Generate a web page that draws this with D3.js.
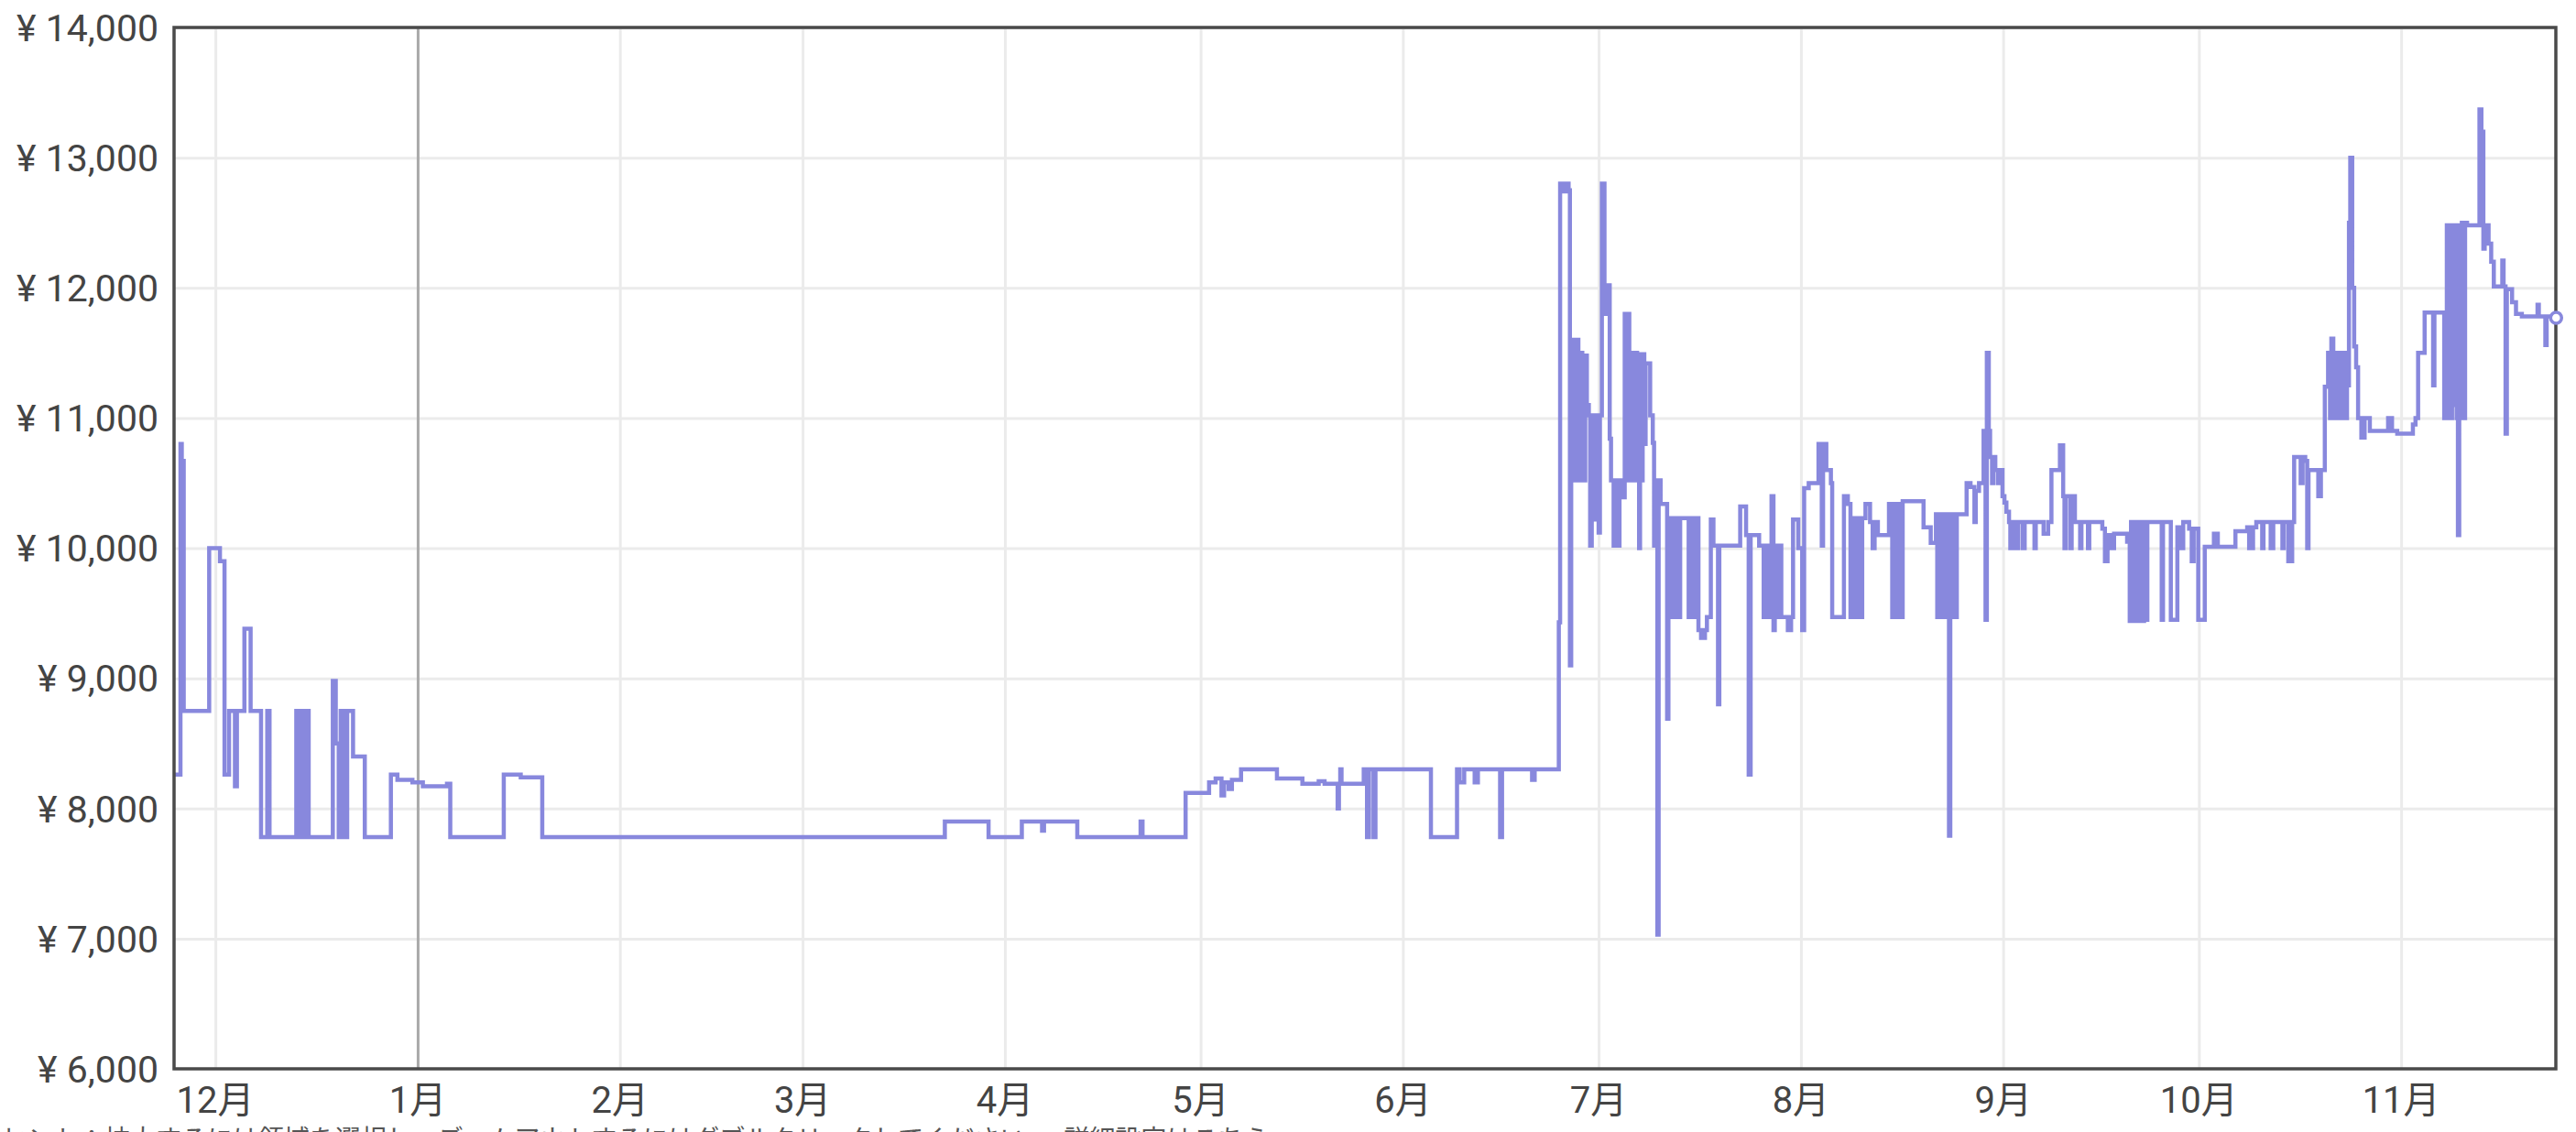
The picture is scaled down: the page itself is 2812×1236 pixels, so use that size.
<!DOCTYPE html>
<html><head><meta charset="utf-8">
<script src="https://cdn.jsdelivr.net/npm/d3@7"></script>
<style>
html,body{margin:0;padding:0;background:#fff;overflow:hidden;}
svg{display:block;}
</style></head><body>
<svg id="chart" width="2812" height="1236"></svg>
<script>
// ---------- data ----------
const monthLabels = ["12月","1月","2月","3月","4月","5月","6月","7月","8月","9月","10月","11月"];
const yTicks = [6000,7000,8000,9000,10000,11000,12000,13000,14000];
// days since 2022-12-01 00:00 at which each price starts (step after)
const days = [
-6.4,-5.35,-5.15,-4.85,-0.95,0.7,1.4,2.1,3.0,3.3,4.45,5.4,7.0,7.95,8.3,12.4,12.7,12.9,13.2,13.4,13.7,13.9,14.3,
18.0,18.45,18.9,19.2,19.5,19.7,20.0,20.2,21.1,22.9,26.9,27.9,30.2,31.8,35.5,36.0,44.2,46.8,50.1,
111.8,118.5,123.6,126.7,127.0,132.1,141.8,142.1,148.7,152.3,153.3,154.2,154.6,155.3,155.8,157.2,162.7,166.6,
169.1,170.0,172.0,172.2,172.4,172.6,176.0,176.5,176.8,177.5,177.8,186.3,190.3,190.7,191.4,193.0,193.5,196.9,
197.2,201.8,202.2,205.9,206.1,
206.6,207.0,207.4,207.6,207.8,207.9,208.0,208.1,208.2,208.3,208.4,208.5,208.6,208.7,208.8,208.9,209.0,209.1,
209.2,209.3,209.4,209.5,209.6,209.7,209.8,209.9,209.95,210.2,210.5,210.7,210.95,211.5,211.7,212.0,212.2,212.5,212.9,213.2,213.7,213.9,214.3,214.6,215.0,
215.2,215.6,216.0,216.1,216.2,216.3,216.4,216.5,216.6,216.7,216.8,216.9,217.0,217.1,217.2,217.3,217.4,217.5,217.7,217.9,218.2,218.35,218.6,218.75,
219.0,219.2,219.9,220.3,220.5,220.6,221.0,221.2,221.5,222.5,222.7,223.0,223.2,223.5,223.8,224.2,224.5,225.8,
226.2,226.6,227.0,227.3,227.7,228.3,228.6,229.2,229.6,230.3,230.5,233.7,234.6,235.0,235.3,236.6,237.3,237.6,
237.9,238.2,238.5,238.8,239.0,239.4,239.7,240.0,241.0,241.5,241.8,242.6,243.2,243.5,244.2,245.7,246.2,246.4,
246.9,247.6,247.8,249.6,250.2,250.6,250.9,251.3,251.6,252.0,252.4,252.9,253.6,254.0,254.3,254.8,256.5,257.0,
257.3,257.6,258.0,258.3,258.6,261.8,262.9,263.7,263.9,264.1,264.3,264.5,264.7,264.9,265.1,265.3,265.5,265.7,
265.9,266.1,266.3,266.5,266.7,266.9,
268.4,269.0,269.6,269.8,270.3,271.0,271.3,271.5,271.8,272.0,272.3,272.5,272.8,273.2,273.5,273.9,274.2,274.5,
274.9,275.1,275.4,275.6,275.9,276.1,276.3,277.0,277.3,278.8,279.0,280.2,280.9,281.4,282.7,283.2,283.4,283.6,
284.3,284.5,285.0,285.8,286.0,287.0,287.2,289.2,289.6,290.0,290.6,291.0,293.0,293.4,293.6,293.8,294.0,294.2,
294.4,294.6,294.8,295.0,295.2,295.4,295.6,295.8,296.1,298.3,298.5,299.7,300.7,301.2,301.6,302.5,302.9,303.2,
303.9,304.9,306.3,306.9,309.6,311.4,311.7,312.3,312.8,313.7,313.9,315.0,315.4,316.8,317.0,317.7,318.3,318.6,
319.6,319.9,320.3,320.6,320.8,322.3,322.7,323.3,
323.8,324.1,324.3,324.6,324.9,325.2,325.5,325.8,326.1,326.4,326.7,327.0,327.2,327.5,327.8,328.1,328.4,328.9,
329.4,330.2,333.0,333.6,334.4,336.8,337.2,337.6,338.6,339.9,340.1,341.6,341.8,342.0,342.2,342.4,342.6,342.8,
343.0,343.2,343.5,343.7,343.9,344.1,344.3,344.6,344.8,345.1,347.0,347.3,347.6,347.8,348.4,348.8,349.2,350.5,
350.7,351.0,351.2,352.0,352.6,353.5,355.9,356.1,357.1,357.3,358.75
];
const prices = [
8260,10800,10670,8750,10000,9900,8260,8750,8170,8750,9380,8750,7780,8750,7780,8750,7780,8750,7780,8750,7780,8750,7780,
8980,8500,7780,8750,7780,8750,7780,8750,8400,7780,8260,8220,8200,8170,8190,7780,8260,8240,7780,
7900,7780,7900,7830,7900,7780,7900,7780,8120,8200,8230,8100,8200,8150,8220,8300,8230,8190,
8210,8190,8000,8190,8300,8190,8300,7780,8300,7780,8300,7780,8300,8200,8300,8200,8300,7780,
8300,8220,8300,9430,12800,
12740,12800,12750,9100,11600,10520,11600,10520,11600,10520,11600,10520,11600,10520,11600,10520,11500,10520,
11500,10520,11500,10520,11480,10520,11480,10520,11480,11100,11020,10020,11020,10220,11020,10120,11020,12800,11800,12020,10840,10520,10020,10520,10020,
10520,10390,11800,10520,11800,10520,11800,10520,11800,10520,11500,10520,11500,10520,11500,10520,11500,10520,11500,11300,10000,11490,10520,11490,
10800,11420,11020,10810,10020,10520,7030,10520,10340,8690,10230,9470,10230,9470,10230,9470,10230,9470,
10230,9470,10230,9370,9310,9370,9470,10220,10020,8800,10020,10320,10100,8260,10100,10020,9470,10020,
9470,10020,10400,9370,10020,9470,10020,9470,9370,9470,10220,10000,9370,10460,10500,10800,10020,10800,
10600,10500,9470,10400,10340,9470,10230,9470,10230,9470,10230,10340,10200,10000,10200,10100,10340,9470,
10340,9470,10340,9470,10360,10160,10040,10260,9470,10260,9470,10260,9470,10260,9470,10260,9470,7790,
9470,10260,9470,10260,9470,10260,
10500,10470,10200,10440,10500,10900,9450,11500,10900,10700,10500,10700,10600,10500,10600,10400,10350,10280,
10200,10000,10200,10000,10200,10000,10200,10000,10200,10000,10200,10110,10200,10600,10790,10400,10000,10400,
10000,10400,10200,10000,10200,10000,10200,10150,9900,10100,10000,10110,10050,9440,10200,9440,10200,9440,
10200,9440,10200,9440,10200,9440,10200,9450,10200,9450,10200,9450,10160,10000,10200,10150,9900,10150,
9450,10010,10110,10010,10130,10160,10000,10160,10200,10000,10200,10000,10200,10000,10200,9900,10200,10700,
10500,10700,10670,10000,10600,10400,10600,11240,
11500,11000,11610,11000,11500,11000,11500,11000,11500,11000,11250,12500,13000,12000,11550,11390,11000,10850,
11000,10900,11000,10900,10880,10950,11000,11500,11810,11250,11810,11000,11810,12480,11000,12480,11000,12480,
11100,12480,11000,10100,12480,11000,12500,11000,12500,12480,13370,13200,12300,12480,12340,12200,12010,12210,
12010,10880,11990,11890,11800,11780,11870,11780,11560,11780,11770
];
const hintText = "ヒント：拡大するには領域を選択し、ズームアウトするにはダブルクリックしてください。　詳細設定はこちら";

// ---------- chart ----------
const svg = d3.select("#chart");
const L = 190, R = 2790, T = 30, B = 1167;
const baseDate = new Date(2022, 11, 1, 0, 0);
const x = d3.scaleTime()
  .domain([new Date(2022, 10, 24, 16), new Date(2023, 10, 24, 17)])
  .range([L, R]);
const y = d3.scaleLinear().domain([6000, 14000]).range([B, T]);

const n = Math.min(days.length, prices.length);
const data = d3.range(n).map(i => ({ date: d3.timeMinute.offset(baseDate, Math.round(days[i] * 1440)), v: prices[i] }));
const monthStarts = d3.timeMonth.range(new Date(2022, 11, 1), new Date(2023, 11, 1));

// grid
const gy = svg.append("g")
  .attr("transform", `translate(${L},0)`)
  .call(d3.axisLeft(y).tickValues(yTicks).tickSize(-(R - L)).tickFormat(""));
gy.select(".domain").remove();
gy.selectAll("line").attr("stroke", "#ebebeb").attr("stroke-width", 3);

const gx = svg.append("g")
  .attr("transform", `translate(0,${B})`)
  .call(d3.axisBottom(x).tickValues(monthStarts).tickSize(-(B - T)).tickFormat(""));
gx.select(".domain").remove();
gx.selectAll("line")
  .attr("stroke", d => d.getMonth() === 0 ? "#a9a9a9" : "#ebebeb")
  .attr("stroke-width", 3);

// clip
svg.append("clipPath").attr("id", "clip")
  .append("rect").attr("x", L).attr("y", T).attr("width", R - L).attr("height", B - T);

// line
const line = d3.line().x(d => x(d.date)).y(d => y(d.v)).curve(d3.curveStepAfter);
svg.append("path")
  .datum(data)
  .attr("clip-path", "url(#clip)")
  .attr("fill", "none")
  .attr("stroke", "#8888dd")
  .attr("stroke-width", 4.5)
  .attr("d", line);

// frame
svg.append("rect")
  .attr("x", L).attr("y", T).attr("width", R - L).attr("height", B - T)
  .attr("fill", "none").attr("stroke", "#4a4a4a").attr("stroke-width", 3.5);

// end marker
const last = data[data.length - 1];
svg.append("circle")
  .attr("cx", x(last.date)).attr("cy", y(last.v)).attr("r", 6)
  .attr("fill", "#fff").attr("stroke", "#8888dd").attr("stroke-width", 3.5);

// y labels
const fmt = d3.format(",");
svg.append("g").selectAll("text").data(yTicks).join("text")
  .attr("x", 173).attr("y", d => y(d))
  .attr("dy", "0.36em")
  .attr("text-anchor", "end")
  .attr("font-family", "Roboto, 'Noto Sans CJK JP', sans-serif")
  .attr("font-size", 41)
  .attr("fill", "#444")
  .text(d => "¥ " + fmt(d));

// x labels
svg.append("g").selectAll("text").data(monthStarts).join("text")
  .attr("x", d => x(d)).attr("y", 1215)
  .attr("text-anchor", "middle")
  .attr("font-family", "Roboto, 'Noto Sans CJK JP', sans-serif")
  .attr("font-size", 40)
  .attr("fill", "#444")
  .text((d, i) => monthLabels[i]);

// hint text (cut off at bottom edge, as in the reference)
svg.append("text")
  .attr("x", 2).attr("y", 1254)
  .attr("font-family", "'Noto Sans CJK JP', sans-serif")
  .attr("font-size", 28)
  .attr("fill", "#555")
  .text(hintText);
</script>
</body></html>
